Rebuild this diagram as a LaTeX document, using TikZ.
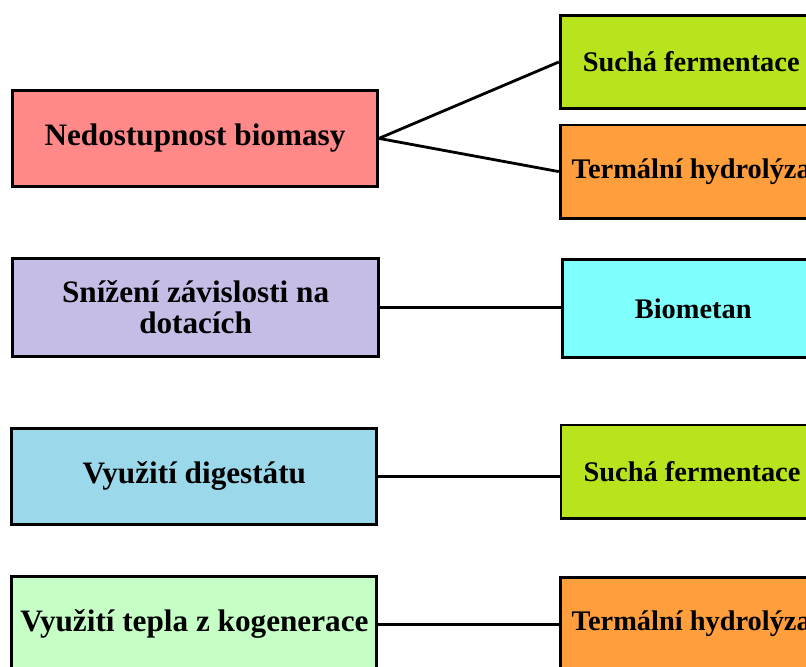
\documentclass[tikz,border=0pt]{standalone}
\usepackage{fontspec}
\setmainfont{Liberation Serif}
\usepackage{xcolor}
\usetikzlibrary{positioning,calc}
\definecolor{probred}{RGB}{255,136,136}
\definecolor{problilac}{RGB}{198,189,230}
\definecolor{probblue}{RGB}{155,217,234}
\definecolor{probgreen}{RGB}{198,255,198}
\definecolor{sollime}{RGB}{184,228,30}
\definecolor{solorange}{RGB}{255,158,61}
\definecolor{solcyan}{RGB}{128,255,255}

\begin{document}
\begin{tikzpicture}[
  problem/.style={draw, line width=2pt, align=center, minimum width=9.125cm, minimum height=2.4cm, font=\bfseries\fontsize{22.2}{22}\selectfont},
  solution/.style={draw, line width=2pt, align=center, minimum width=6.55cm, minimum height=2.33cm, font=\bfseries\fontsize{20.2}{22}\selectfont},
  link/.style={line width=2pt}
]
\useasboundingbox (0,0) rectangle (20.15,-16.65);
\clip (0,0) rectangle (20.15,-16.65);
% Problems on the left.
\node[problem, fill=probred] (nedostupnost) at (4.875,-3.46) {Nedostupnost biomasy};
\node[problem, fill=problilac, minimum width=9.15cm, minimum height=2.45cm] (dotace) at (4.89,-7.68) {Snížení závislosti na\\dotacích};
\node[problem, fill=probblue] (digestat) at (4.86,-11.91) {Využití digestátu};
\node[problem, fill=probgreen] (teplo) at (4.86,-15.61) {Využití tepla z kogenerace};

% Solutions on the right.
\node[solution, fill=sollime] (sucha1) at (17.28,-1.55) {Suchá fermentace};
\node[solution, fill=solorange] (hydrolyza1) at (17.28,-4.29) {Termální hydrolýza};
\node[solution, fill=solcyan, minimum height=2.45cm] (biometan) at (17.33,-7.71) {Biometan};
\node[solution, fill=sollime] (sucha2) at (17.3,-11.79) {Suchá fermentace};
\node[solution, fill=solorange] (hydrolyza2) at (17.28,-15.6) {Termální hydrolýza};

\draw[link] (nedostupnost.east) -- (sucha1.west);
\draw[link] (nedostupnost.east) -- (hydrolyza1.west);
\draw[link] (dotace.east) -- (dotace.east -| biometan.west);
\draw[link] (digestat.east) -- (digestat.east -| sucha2.west);
\draw[link] (teplo.east) -- (teplo.east -| hydrolyza2.west);
\end{tikzpicture}
\end{document}
